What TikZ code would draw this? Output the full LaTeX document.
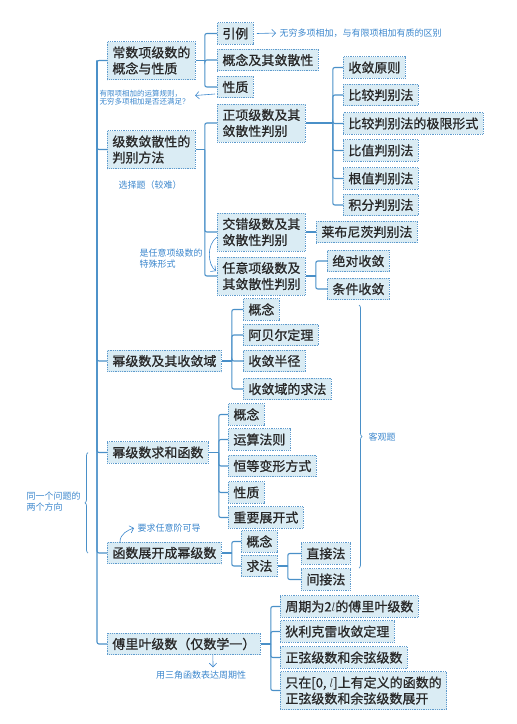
\documentclass[tikz,border=0pt]{standalone}
\usepackage{fontspec}
\newfontfamily\cjk{Noto Sans CJK SC}
\newfontfamily\cjkbox[FakeBold=0.8]{Noto Sans CJK SC}
\usepackage{xcolor}
\usetikzlibrary{arrows.meta,positioning,decorations.pathreplacing}
\definecolor{linkblue}{RGB}{74,144,200}
\definecolor{boxline}{RGB}{95,155,205}
\definecolor{boxfill}{RGB}{218,236,244}
\definecolor{noteblue}{RGB}{60,135,205}
\definecolor{boxtext}{RGB}{40,40,40}

\begin{document}
\begin{tikzpicture}[
  x=1pt, y=-1pt,
  font=\cjkbox\fontsize{13}{16}\selectfont,
  kbox/.style={draw=boxline, densely dotted, line width=0.8pt, fill=boxfill,
               text=boxtext, anchor=west, inner xsep=5pt, inner ysep=2pt,
               minimum height=21.5pt},
  kbox2/.style={kbox, align=left, minimum height=38pt},
  link/.style={draw=linkblue, line width=1.1pt, rounded corners=2pt},
  note/.style={text=noteblue, font=\cjk\fontsize{9}{11}\selectfont, align=left},
  notearr/.style={draw=noteblue, line width=0.6pt, ->},
  brace/.style={draw=linkblue, line width=0.7pt,
                decoration={brace, amplitude=3pt}, decorate},
  >={Straight Barb[length=1.3mm]},
]
\useasboundingbox (0,0) rectangle (517,724);
% first level
\node[kbox2] (cs) at (107,60.5) {常数项级数的\\概念与性质};
\node[kbox2] (pb) at (107,149.5) {级数敛散性的\\判别方法};
\node[kbox] (mj) at (107,361) {幂级数及其收敛域};
\node[kbox] (hs) at (107,452.5) {幂级数求和函数};
\node[kbox] (zk) at (107,553) {函数展开成幂级数};
\node[kbox] (fl) at (107,644) {傅里叶级数（仅数学一）};
% constant term series
\node[kbox] (yl) at (217,33.5) {引例};
\node[kbox] (gn) at (217,60) {概念及其敛散性};
\node[kbox] (xz) at (217,87) {性质};
% tests
\node[kbox2] (zx) at (217,123) {正项级数及其\\敛散性判别};
\node[kbox2] (jc) at (217,232) {交错级数及其\\敛散性判别};
\node[kbox2] (ry) at (217,276) {任意项级数及\\其敛散性判别};
\node[kbox] (sl) at (343,67.5) {收敛原则};
\node[kbox] (bj) at (343,95) {比较判别法};
\node[kbox] (jx) at (343,123.5) {比较判别法的极限形式};
\node[kbox] (bz) at (343,150.5) {比值判别法};
\node[kbox] (gz) at (343,178.5) {根值判别法};
\node[kbox] (jf) at (343,205) {积分判别法};
\node[kbox] (lb) at (316,232) {莱布尼茨判别法};
\node[kbox] (jd) at (327,261) {绝对收敛};
\node[kbox] (tj) at (327,289) {条件收敛};
% power series
\node[kbox] (mgn) at (243,309.5) {概念};
\node[kbox] (abe) at (243,335) {阿贝尔定理};
\node[kbox] (bjj) at (243,361) {收敛半径};
\node[kbox] (qf) at (243,389) {收敛域的求法};
% sum function
\node[kbox] (hgn) at (228,414.5) {概念};
\node[kbox] (ys) at (228,439.5) {运算法则};
\node[kbox] (hd) at (228,466) {恒等变形方式};
\node[kbox] (hxz) at (228,492.5) {性质};
\node[kbox] (zy) at (228,517.5) {重要展开式};
% expansion
\node[kbox] (zgn) at (241,541.5) {概念};
\node[kbox] (qiu) at (241,566) {求法};
\node[kbox] (zj) at (301,553.5) {直接法};
\node[kbox] (jj) at (301,579.5) {间接法};
% Fourier
\node[kbox] (zq) at (280,606.5) {周期为2$l$的傅里叶级数};
\node[kbox] (dl) at (280,631.5) {狄利克雷收敛定理};
\node[kbox] (zxy) at (280,657.5) {正弦级数和余弦级数};
\node[kbox2] (zd) at (280,690.5) {只在[0, $l$]上有定义的函数的\\正弦级数和余弦级数展开};

% spine
\coordinate (sp) at (97,60.5);
\draw[link] (cs.west) -- (sp) |- (fl.west);
\foreach \n in {pb,mj,hs,zk} \draw[link] (sp) |- (\n.west);
% branches
\draw[link] (cs.east) -- ++(9,0) coordinate (jcs);
\foreach \n in {yl,gn,xz} \draw[link] (jcs) |- (\n.west);
\draw[link] (pb.east) -- ++(9,0) coordinate (jpb);
\foreach \n in {zx,jc,ry} \draw[link] (jpb) |- (\n.west);
\draw[link] (zx.east) -- ++(27,0) coordinate (jzx);
\foreach \n in {sl,bj,jx,bz,gz,jf} \draw[link] (jzx) |- (\n.west);
\draw[link] (jc.east) -- (lb.west);
\draw[link] (ry.east) -- ++(10,0) coordinate (jry);
\foreach \n in {jd,tj} \draw[link] (jry) |- (\n.west);
\draw[link] (mj.east) -- ++(10,0) coordinate (jmj);
\foreach \n in {mgn,abe,bjj,qf} \draw[link] (jmj) |- (\n.west);
\draw[link] (hs.east) -- ++(10,0) coordinate (jhs);
\foreach \n in {hgn,ys,hd,hxz,zy} \draw[link] (jhs) |- (\n.west);
\draw[link] (zk.east) -- ++(10,0) coordinate (jzk);
\foreach \n in {zgn,qiu} \draw[link] (jzk) |- (\n.west);
\draw[link] (qiu.east) -- ++(10,0) coordinate (jqiu);
\foreach \n in {zj,jj} \draw[link] (jqiu) |- (\n.west);
\draw[link] (fl.east) -- ++(10,0) coordinate (jfl);
\foreach \n in {zq,dl,zxy,zd} \draw[link] (jfl) |- (\n.west);

% notes
\node[note, anchor=west] (n1) at (276,33) {无穷多项相加，与有限项相加有质的区别};
\draw[notearr] ([xshift=3pt]yl.east) -- (n1.west);
\node[note, anchor=west, font=\cjk\fontsize{7.5}{8.5}\selectfont] (n2) at (96,97.5)
  {有限项相加的运算规则，\\无穷多项相加是否还满足？};
\draw[notearr] ([xshift=-2pt,yshift=-7pt]xz.west) -- ([xshift=2pt,yshift=2pt]n2.east);
\node[note, anchor=west] (n3) at (115,185) {选择题（较难）};
\node[note, anchor=west] (n4) at (136,258.5) {是任意项级数的\\特殊形式};
\draw[notearr] ([yshift=-5pt]jc.west) .. controls +(-11,8) and +(-8,-6) .. ([xshift=-1pt,yshift=5pt]ry.west);
\node[note, anchor=west] (n5) at (23,501.5) {同一个问题的\\两个方向};
\draw[brace] ([xshift=-19pt]zk.west) -- ([xshift=-19pt]hs.west);
\coordinate (kt) at (359,305);
\coordinate (kb) at (359,568);
\draw[brace] (kt) -- (kb);
\node[note, anchor=west] (n6) at (365,437) {客观题};
\node[note, anchor=west] (n7) at (134,528) {要求任意阶可导};
\draw[notearr] ([xshift=13pt]zk.north west) .. controls +(0,-8) and +(-6,2) .. (n7.west);
\node[note] (n8) at (201,675) {用三角函数表达周期性};
\draw[notearr] ([xshift=29pt]fl.south) -- ([xshift=12pt]n8.north);
\end{tikzpicture}
\end{document}
